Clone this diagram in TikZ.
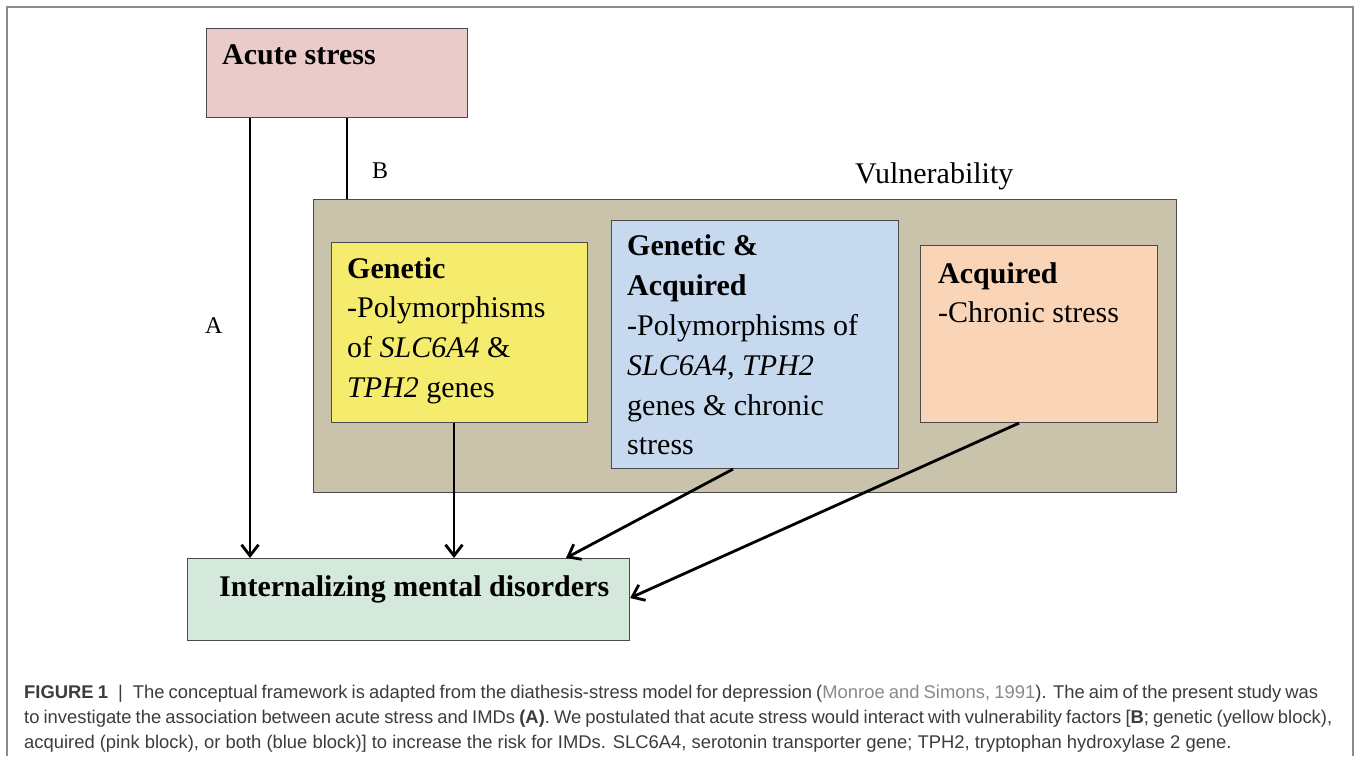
\documentclass[tikz,border=0pt]{standalone}
\usepackage{fontspec}
\setmainfont{Liberation Serif}
\newfontfamily\capfont{Liberation Sans}
\usetikzlibrary{arrows.meta,calc}
\definecolor{acutef}{HTML}{EBCACA}
\definecolor{vulnf}{HTML}{C9C3AB}
\definecolor{genf}{HTML}{F5EC6E}
\definecolor{bothf}{HTML}{C6D9EE}
\definecolor{acqf}{HTML}{FAD4B6}
\definecolor{intf}{HTML}{D5E8DC}
\definecolor{boxline}{HTML}{4A4A4A}
\definecolor{framec}{HTML}{8C8C8C}
\definecolor{capc}{HTML}{3C3C3C}
\definecolor{citec}{HTML}{8A8A8A}
\tikzset{
  boxst/.style={draw=boxline, line width=1.1pt, inner sep=0pt, anchor=north west},
  txt/.style={anchor=base west, inner sep=0pt, font=\fontsize{30}{40}\selectfont},
  lbl/.style={anchor=base west, inner sep=0pt, font=\fontsize{24}{28}\selectfont},
  capst/.style={anchor=base west, inner sep=0pt, text=capc, font=\capfont\fontsize{18.4}{26}\selectfont},
  arr/.style={line width=2.8pt, -{Straight Barb[length=11pt,width=17pt]}},
  conn/.style={line width=2.2pt}
}
\begin{document}
\begin{tikzpicture}[x=1pt,y=-1pt]
\useasboundingbox (0,0) rectangle (1356,756);
\fill[white] (0,0) rectangle (1356,756);
\draw[framec, line width=1.4pt] (7,756) -- (7,7) -- (1353,7) -- (1353,756);

% boxes
\node[boxst, fill=acutef, minimum width=261pt, minimum height=89pt] (acute) at (206,28) {};
\node[boxst, fill=vulnf, minimum width=863pt, minimum height=293pt] (vul) at (313,199) {};
\node[boxst, fill=genf, minimum width=256pt, minimum height=180pt] (gen) at (331,242) {};
\node[boxst, fill=bothf, minimum width=287pt, minimum height=248pt] (both) at (611,220) {};
\node[boxst, fill=acqf, minimum width=237pt, minimum height=177pt] (acq) at (920,245) {};
\node[boxst, fill=intf, minimum width=442pt, minimum height=82pt] (int) at (187,558) {};

% texts
\node[txt] (tacute) at (222,64) {\textbf{Acute stress}};
\node[txt] (tvul) at (855,183) {Vulnerability};
\node[lbl] (la) at (205,333) {A};
\node[lbl] (lb) at (372,178) {B};

\node[txt] (g1) at (347,278) {\textbf{Genetic}};
\node[txt] (g2) at (347,317) {-Polymorphisms};
\node[txt] (g3) at (347,357) {of \textit{SLC6A4} \&};
\node[txt] (g4) at (347,397) {\textit{TPH2} genes};

\node[txt] (b1) at (627,255) {\textbf{Genetic \&}};
\node[txt] (b2) at (627,295) {\textbf{Acquired}};
\node[txt] (b3) at (627,335) {-Polymorphisms of};
\node[txt] (b4) at (627,375) {\textit{SLC6A4}, \textit{TPH2}};
\node[txt] (b5) at (627,415) {genes \& chronic};
\node[txt] (b6) at (627,454) {stress};

\node[txt] (q1) at (938,283) {\textbf{Acquired}};
\node[txt] (q2) at (938,322) {-Chronic stress};

\node[txt] (tint) at (219,596) {\textbf{Internalizing mental disorders}};

% connectors
\coordinate (aA) at ($(acute.south west)+(44,0)$);
\draw[arr] (aA) -- (aA |- int.north);
\coordinate (aB) at ($(acute.south west)+(141,0)$);
\draw[conn] (aB) -- (aB |- vul.north);
\coordinate (gs) at ($(gen.south west)+(123,0)$);
\draw[arr] (gs) -- (gs |- int.north);
\draw[arr] ($(both.south west)+(122,0)$) -- ($(int.north west)+(379,0)$);
\draw[arr] ($(acq.south west)+(99,0)$) -- ($(int.north east)+(0,40)$);

% caption
\node[capst] (c1) at (24,698) {\hbox to 1294pt{\spaceskip=0.278em plus 0.3em minus 0.18em \textbf{FIGURE 1}\hspace{10pt}|\hspace{10pt}The conceptual framework is adapted from the diathesis-stress model for depression (\textcolor{citec}{Monroe and Simons, 1991}). The aim of the present study was}};
\node[capst] (c2) at (24,723) {\hbox to 1308pt{\spaceskip=0.278em plus 0.3em minus 0.18em to investigate the association between acute stress and IMDs \textbf{(A)}. We postulated that acute stress would interact with vulnerability factors [\textbf{B}; genetic (yellow block),}};
\node[capst] (c3) at (24,748) {acquired (pink block), or both (blue block)] to increase the risk for IMDs. SLC6A4, serotonin transporter gene; TPH2, tryptophan hydroxylase 2 gene.};
\end{tikzpicture}
\end{document}
